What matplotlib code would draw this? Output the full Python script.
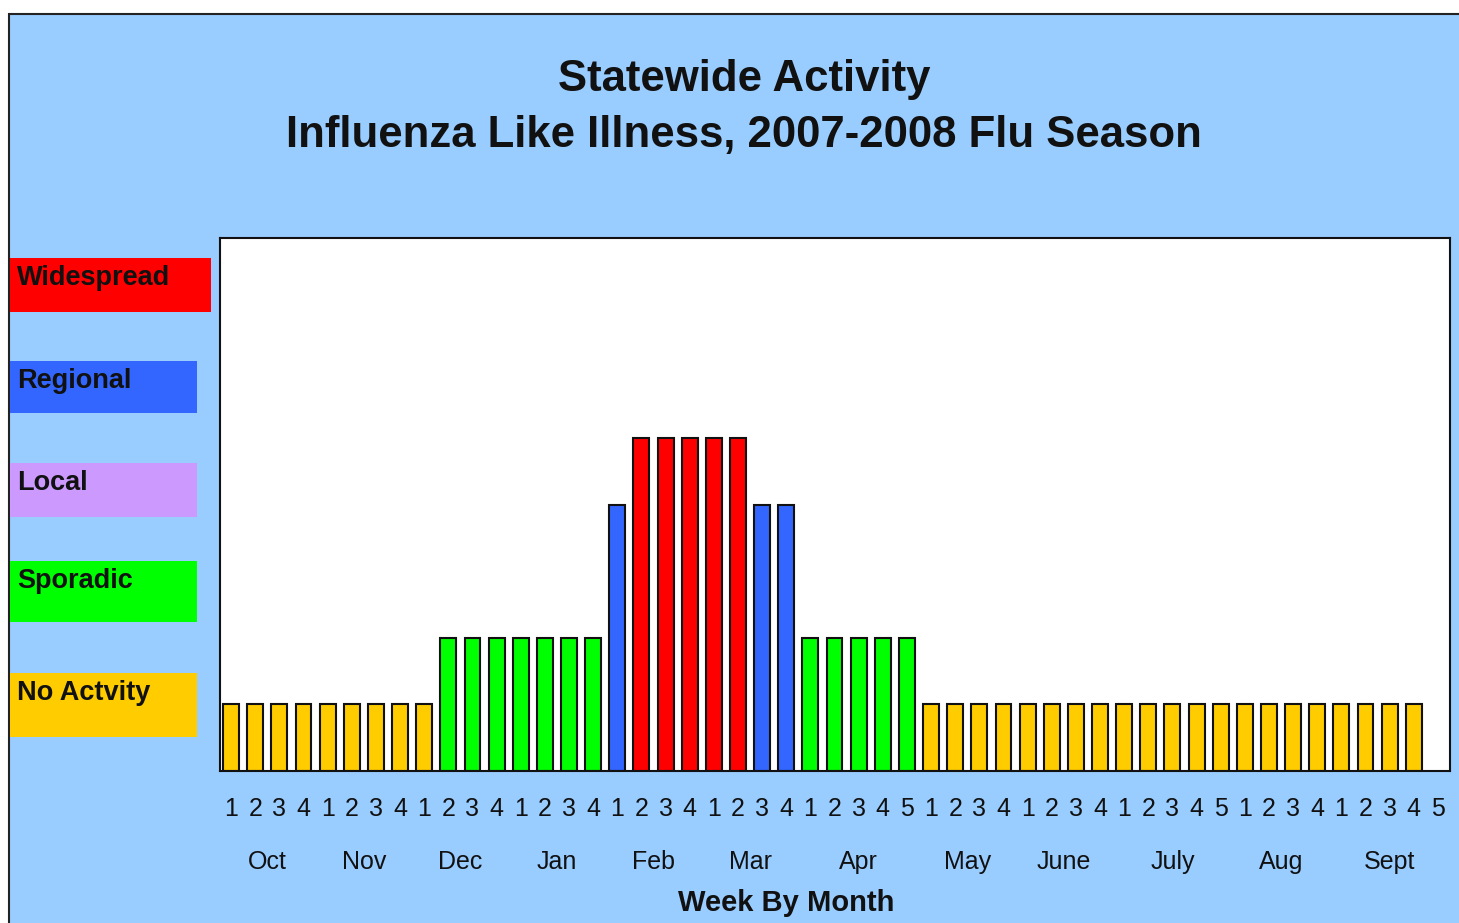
import matplotlib
matplotlib.use("Agg")
import matplotlib.pyplot as plt
from matplotlib.patches import Rectangle
import matplotlib.transforms as mtransforms

# activity level per week (1 = no activity ... 5 = widespread)
activity = [1, 1, 1, 1, 1, 1, 1, 1, 1,
            2, 2, 2, 2, 2, 2, 2,
            4,
            5, 5, 5, 5, 5,
            4, 4,
            2, 2, 2, 2, 2,
            1, 1, 1, 1, 1, 1, 1, 1, 1, 1, 1, 1, 1, 1, 1, 1, 1, 1, 1, 1, 1]

months = ["Oct", "Nov", "Dec", "Jan", "Feb", "Mar", "Apr", "May", "June", "July", "Aug", "Sept"]
weeksPerMonth = [4, 4, 4, 4, 4, 4, 5, 4, 4, 5, 4, 5]

levelNames = ["Widespread", "Regional", "Local", "Sporadic", "No Actvity"]
levelValues = [5, 4, 3, 2, 1]
levelColors = ["#FF0000", "#3366FF", "#CC99FF", "#00FF00", "#FFCC00"]

panelColor = "#99CCFF"
plt.rcParams["font.family"] = ["Liberation Sans", "DejaVu Sans"]

fig = plt.figure(figsize=(14.59, 9.23), dpi=100)
fig.patch.set_facecolor("white")

# blue panel behind everything
fig.patches.append(Rectangle((9 / 1459, -0.01), 1.0, 0.9848 + 0.01,
                             transform=fig.transFigure, facecolor=panelColor,
                             edgecolor="#222222", linewidth=1.5, zorder=-10))

ax = fig.add_axes([220 / 1459, 1 - 771 / 923, (1450 - 220) / 1459, (771 - 238) / 923])
ax.set_facecolor("white")

colorOf = dict(zip(levelValues, levelColors))
x = list(range(len(activity)))
ax.bar(x, activity, width=0.66, color=[colorOf[a] for a in activity],
       edgecolor="#111111", linewidth=1.5, zorder=2)

ax.set_xlim(-0.46, 50.5)
ax.set_ylim(0, 8)
ax.set_yticks([])

# week numbers under each bar slot
weekLabels = []
for n in weeksPerMonth:
    weekLabels += [str(w + 1) for w in range(n)]
ax.set_xticks(range(len(weekLabels)))
ax.set_xticklabels(weekLabels, fontsize=18, color="#111111")
ax.tick_params(axis="x", length=0, pad=19)

for s in ax.spines.values():
    s.set_linewidth(1.5)
    s.set_color("#111111")

# month names centred on their weeks
trans = mtransforms.blended_transform_factory(ax.transData, fig.transFigure)
start = 0
for m, n in zip(months, weeksPerMonth):
    center = start + (n - 1) / 2
    ax.text(center, 1 - 862 / 923, m, transform=trans, ha="center", va="center",
            fontsize=18, color="#111111")
    start += n

fig.text(786 / 1459, 1 - 903 / 923, "Week By Month", ha="center", va="center",
         fontsize=21, fontweight="bold", color="#111111")

# titles
fig.text(744 / 1459, 1 - 79 / 923, "Statewide Activity", ha="center", va="center",
         fontsize=31.5, fontweight="bold", color="#111111")
fig.text(744 / 1459, 1 - 136 / 923, "Influenza Like Illness, 2007-2008 Flu Season",
         ha="center", va="center", fontsize=31.5, fontweight="bold", color="#111111")

# colour key on the left
keyBoxes = [(258, 312, 211), (361, 413, 197), (463, 517, 197), (561, 622, 197), (673, 737, 197)]
for name, col, (top, bottom, right) in zip(levelNames, levelColors, keyBoxes):
    fig.patches.append(Rectangle((10 / 1459, 1 - bottom / 923), (right - 10) / 1459,
                                 (bottom - top) / 923, transform=fig.transFigure,
                                 facecolor=col, edgecolor="none", zorder=-5))
    fig.text(17 / 1459, 1 - (top + 20) / 923, name, ha="left", va="center",
             fontsize=19.5, fontweight="bold", color="#111111")

fig.savefig("out.png", dpi=100, facecolor=fig.get_facecolor())
